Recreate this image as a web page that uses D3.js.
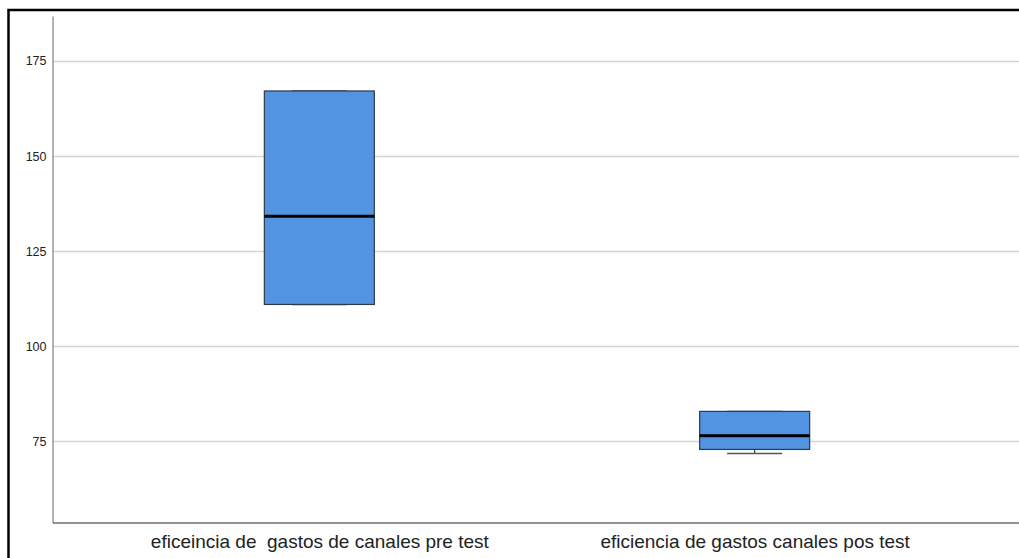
<!DOCTYPE html>
<html>
<head>
<meta charset="utf-8">
<script src="https://cdn.jsdelivr.net/npm/d3@7"></script>
<style>
  html, body { margin: 0; padding: 0; background: #fff; }
  svg { display: block; }
  text { font-family: "Liberation Sans", Arial, sans-serif; }
</style>
</head>
<body>
<svg id="chart" width="1019" height="558"></svg>
<script>
// Box plot summaries per group
const categories = [
  "eficeincia de  gastos de canales pre test",
  "eficiencia de gastos canales pos test"
];
const whiskerLow  = [111, 71.8];
const q1          = [111, 72.9];
const median      = [134.2, 76.5];
const q3          = [167.1, 82.9];
const whiskerHigh = [167.1, 82.9];
const yTicks = [75, 100, 125, 150, 175];

const svg = d3.select("#chart");
const W = 1019, H = 558;
const plotLeft = 52.5, plotBottom = 522.5, plotTop = 16;

const y = d3.scaleLinear().domain([53.7, 186.8]).range([plotBottom, plotTop]);
const x = d3.scalePoint().domain(categories).range([plotLeft, 1021.5]).padding(0.613);
const boxW = 110, capW = 55;

// outer frame
svg.append("rect")
  .attr("x", 8.5).attr("y", 10).attr("width", W + 20).attr("height", H + 20)
  .attr("fill", "none").attr("stroke", "#000").attr("stroke-width", 2.5);

// gridlines
svg.append("g").selectAll("line").data(yTicks).join("line")
  .attr("x1", plotLeft).attr("x2", W)
  .attr("y1", d => Math.round(y(d)) + 0.5).attr("y2", d => Math.round(y(d)) + 0.5)
  .attr("stroke", "#d4d4d4").attr("stroke-width", 1.3);

// y axis
const yAxis = svg.append("g").attr("transform", `translate(${plotLeft},0)`)
  .call(d3.axisLeft(y).tickValues(yTicks).tickSize(0).tickPadding(6));
yAxis.select(".domain").attr("stroke", "#8c8c8c").attr("stroke-width", 1.3);
yAxis.selectAll("text").attr("font-size", "12.5px").attr("fill", "#222")
  .style("font-family", "'Liberation Sans', Arial, sans-serif");

// x axis
const xAxis = svg.append("g").attr("transform", `translate(0,${plotBottom})`)
  .call(d3.axisBottom(x).tickSize(0).tickPadding(12));
xAxis.select(".domain").attr("stroke", "#6e6e6e").attr("stroke-width", 1.3);
xAxis.selectAll("text").attr("font-size", "19px").attr("fill", "#222")
  .style("white-space", "pre")
  .style("font-family", "'Liberation Sans', Arial, sans-serif");

// boxes
const groups = svg.append("g").selectAll("g").data(categories).join("g");

groups.append("line")
  .attr("x1", d => x(d)).attr("x2", d => x(d))
  .attr("y1", (d, i) => y(whiskerLow[i])).attr("y2", (d, i) => y(q1[i]))
  .attr("stroke", "#333").attr("stroke-width", 1.2);
groups.append("line")
  .attr("x1", d => x(d)).attr("x2", d => x(d))
  .attr("y1", (d, i) => y(whiskerHigh[i])).attr("y2", (d, i) => y(q3[i]))
  .attr("stroke", "#333").attr("stroke-width", 1.2);
groups.append("line")
  .attr("x1", d => x(d) - capW / 2).attr("x2", d => x(d) + capW / 2)
  .attr("y1", (d, i) => y(whiskerLow[i])).attr("y2", (d, i) => y(whiskerLow[i]))
  .attr("stroke", "#555").attr("stroke-width", 1.5);
groups.append("line")
  .attr("x1", d => x(d) - capW / 2).attr("x2", d => x(d) + capW / 2)
  .attr("y1", (d, i) => y(whiskerHigh[i])).attr("y2", (d, i) => y(whiskerHigh[i]))
  .attr("stroke", "#555").attr("stroke-width", 1.5);

groups.append("rect")
  .attr("x", d => x(d) - boxW / 2).attr("width", boxW)
  .attr("y", (d, i) => y(q3[i])).attr("height", (d, i) => y(q1[i]) - y(q3[i]))
  .attr("fill", "#5294e2").attr("stroke", "#2f3a48").attr("stroke-width", 1.2);

groups.append("line")
  .attr("x1", d => x(d) - boxW / 2).attr("x2", d => x(d) + boxW / 2)
  .attr("y1", (d, i) => y(median[i])).attr("y2", (d, i) => y(median[i]))
  .attr("stroke", "#000").attr("stroke-width", 3);
</script>
</body>
</html>
